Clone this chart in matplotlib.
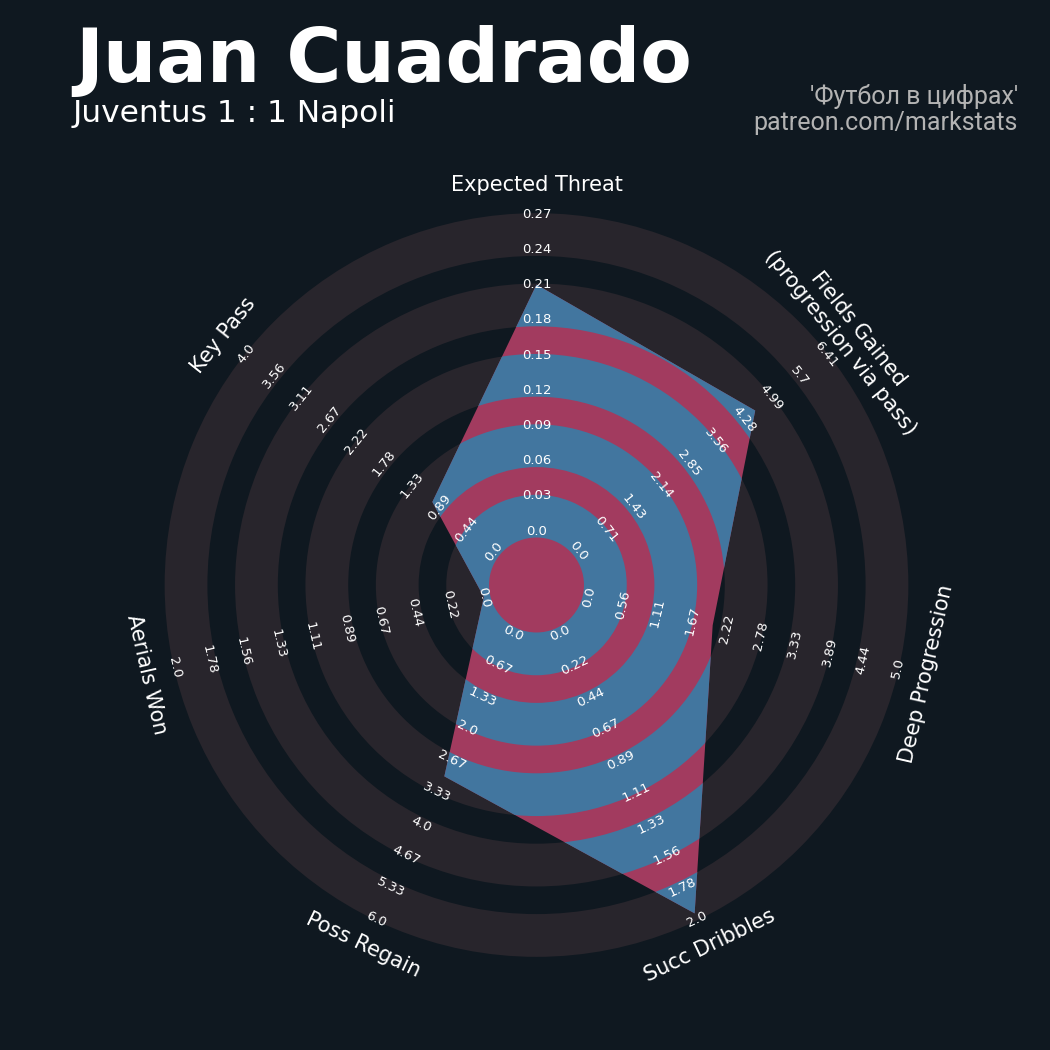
import numpy as np
import matplotlib
matplotlib.use('Agg')
from matplotlib import pyplot as plt
from matplotlib.patches import Wedge, Polygon

# Radar parameters (clockwise from the top)
params = ['Expected Threat', 'Fields Gained\n(progression via pass)', 'Deep Progression',
          'Succ Dribbles', 'Poss Regain', 'Aerials Won', 'Key Pass']
low = [0.0, 0.0, 0.0, 0.0, 0.0, 0.0, 0.0]
high = [0.27, 6.413, 5.0, 2.0, 6.0, 2.0, 4.0]
values = [0.21, 4.57, 2.0, 1.96, 3.0, 0.0, 1.0]

title = 'Juan Cuadrado'
subtitle = 'Juventus 1 : 1 Napoli'
credit = ["'Футбол в цифрах'", 'patreon.com/markstats']

# colours
bg = '#0f1820'
ring_col = '#28252c'
radar_col = '#a23b5f'
inner_ring_col = '#42769f'

# geometry (units = ring width)
n_steps = 9
center_r = 1.534
ring_r = center_r + np.arange(n_steps + 1)
label_r = 11.36

fig = plt.figure(figsize=(10.5, 10.5), dpi=100, facecolor=bg)
ax = fig.add_axes([0, 0, 1, 1])
ax.set_facecolor(bg)
unit = 35.2
ax.set_xlim(-536.5 / unit, 513.5 / unit)
ax.set_ylim(-465 / unit, 585 / unit)
ax.axis('off')

n = len(params)
theta = np.deg2rad(90 - np.arange(n) * 360 / n)


def text_rot(t):
    r = (np.rad2deg(t) - 90) % 360
    if r > 180:
        r -= 360
    if r > 90:
        r -= 180
    elif r < -90:
        r += 180
    return r


# background rings
bands = [(ring_r[2 * k] - 0.185, ring_r[2 * k + 1] + 0.03) for k in range(5)]
for inner, outer in bands:
    ax.add_patch(Wedge((0, 0), outer, 0, 360, width=outer - inner,
                       facecolor=ring_col, edgecolor='none', zorder=1))

# radar polygon
frac = (np.array(values) - np.array(low)) / (np.array(high) - np.array(low))
rad = ring_r[0] + frac * (ring_r[-1] - ring_r[0])
verts = np.column_stack([rad * np.cos(theta), rad * np.sin(theta)])
poly = Polygon(verts, closed=True, facecolor=radar_col, edgecolor='none', zorder=2)
ax.add_patch(poly)

for inner, outer in bands:
    w = Wedge((0, 0), outer, 0, 360, width=outer - inner,
              facecolor=inner_ring_col, edgecolor='none', zorder=3)
    ax.add_patch(w)
    w.set_clip_path(poly)

# range labels
for i in range(n):
    rot = text_rot(theta[i])
    labels = np.linspace(low[i], high[i], n_steps + 1)
    for j, lab in enumerate(labels):
        x = ring_r[j] * np.cos(theta[i])
        y = ring_r[j] * np.sin(theta[i])
        ax.text(x, y, str(round(float(lab), 2)), ha='center', va='center',
                rotation=rot, rotation_mode='anchor', color='white',
                fontsize=9.5, zorder=5)

# parameter labels
for i in range(n):
    ax.text(label_r * np.cos(theta[i]), label_r * np.sin(theta[i]), params[i],
            ha='center', va='center', rotation=text_rot(theta[i]),
            rotation_mode='anchor', color='white', fontsize=15, zorder=5,
            multialignment='center')

# titles
fig.text(75 / 1050, 1 - 82 / 1050, title, fontsize=54, fontweight='bold',
         color='white', va='baseline', ha='left')
fig.text(73 / 1050, 1 - 122 / 1050, subtitle, fontsize=22.5, color='white',
         va='baseline', ha='left')
fig.text(1018 / 1050, 1 - 104 / 1050, credit[0], fontsize=18, color='#b3b3b3',
         va='baseline', ha='right', family=['Roboto', 'DejaVu Sans'])
fig.text(1018 / 1050, 1 - 130 / 1050, credit[1], fontsize=18, color='#b3b3b3',
         va='baseline', ha='right', family=['Roboto', 'DejaVu Sans'])

fig.savefig('out.png', dpi=100, facecolor=bg)
